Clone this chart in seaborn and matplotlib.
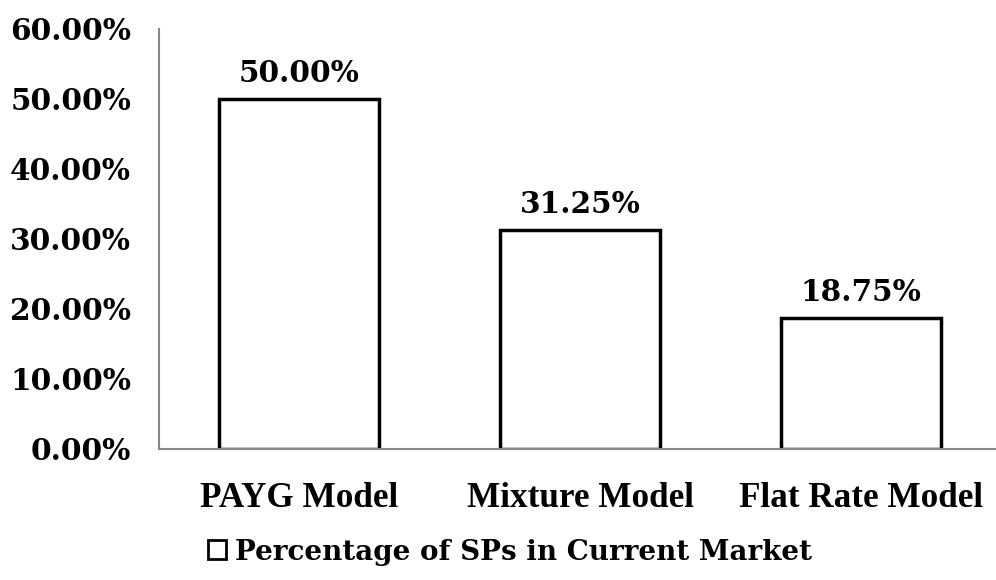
import matplotlib
matplotlib.use("Agg")
import matplotlib.pyplot as plt
import seaborn as sns
import pandas as pd
from matplotlib.patches import Patch

categories = ["PAYG Model", "Mixture Model", "Flat Rate Model"]
values = [50.00, 31.25, 18.75]
yticks = [0, 10, 20, 30, 40, 50, 60]
series_name = "Percentage of SPs in Current Market"

df = pd.DataFrame({"cat": categories, "val": values})

sns.set_style("white")
plt.rcParams["text.color"] = "black"
plt.rcParams["xtick.color"] = "black"
plt.rcParams["ytick.color"] = "black"

fig = plt.figure(figsize=(9.96, 5.8), dpi=100)
ax = fig.add_axes([159/996, 1-449/580, 1-159/996, (449-29)/580])

sns.barplot(data=df, x="cat", y="val", ax=ax, color="white", edgecolor="black",
            linewidth=2.5, width=0.57, saturation=1)

ax.set_ylim(0, 60)
ax.set_xlim(-0.5, 2.48)
ax.set_yticks(yticks)
ax.set_yticklabels([f"{v:.2f}%" for v in yticks], family="DejaVu Serif", weight="bold", fontsize=21.3)
ax.set_xticks(range(len(categories)))
ax.set_xticklabels(categories, family="Liberation Serif", weight="bold", fontsize=25.3)
ax.tick_params(axis="x", length=0, pad=24)
ax.tick_params(axis="y", length=0, pad=20)
ax.set_xlabel("")
ax.set_ylabel("")
for s in ["top", "right"]:
    ax.spines[s].set_visible(False)
for s in ["left", "bottom"]:
    ax.spines[s].set_color("#888888")
    ax.spines[s].set_linewidth(1.5)

for i, v in enumerate(values):
    ax.text(i, v + 1.6, f"{v:.2f}%", ha="center", va="bottom",
            family="DejaVu Serif", weight="bold", fontsize=21.3)

handle = Patch(facecolor="white", edgecolor="black", linewidth=2)
fig.legend([handle], [series_name], loc="center", bbox_to_anchor=(510/996, 1-552/580),
           frameon=False, prop={"family": "DejaVu Serif", "weight": "bold", "size": 20},
           handlelength=0.65, handleheight=0.65, handletextpad=0.3)

fig.savefig("out.png", dpi=100)
